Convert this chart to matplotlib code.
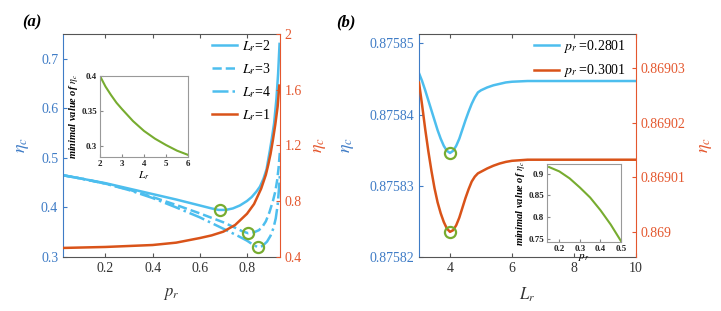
import numpy as np
import matplotlib
matplotlib.use("Agg")
import matplotlib.pyplot as plt

plt.rcParams['font.family'] = ['Liberation Serif', 'DejaVu Serif']
plt.rcParams['mathtext.fontset'] = 'stix'

# ---- panel (a) data: eta_c vs p_r ----
p_L2 = [0.02, 0.1, 0.2, 0.3, 0.4, 0.5, 0.55, 0.6, 0.65, 0.68, 0.71, 0.74, 0.77,
        0.8, 0.82, 0.84, 0.855, 0.87, 0.883, 0.897, 0.905, 0.915, 0.925, 0.932,
        0.938]
eta_L2 = [0.465, 0.458, 0.449, 0.438, 0.427, 0.416, 0.410, 0.404, 0.398, 0.395,
          0.395, 0.398, 0.404, 0.413, 0.421, 0.432, 0.442, 0.458, 0.477, 0.515,
          0.538, 0.57, 0.62, 0.67, 0.73]
p_L3 = [0.02, 0.1, 0.2, 0.3, 0.4, 0.5, 0.6, 0.7, 0.75, 0.78, 0.805, 0.83, 0.85,
        0.864, 0.88, 0.895, 0.91, 0.92, 0.928, 0.934, 0.939]
eta_L3 = [0.465, 0.458, 0.448, 0.436, 0.421, 0.405, 0.388, 0.370, 0.359, 0.352,
          0.348, 0.350, 0.354, 0.360, 0.372, 0.390, 0.413, 0.432, 0.455, 0.48,
          0.51]
p_L4 = [0.02, 0.1, 0.2, 0.3, 0.4, 0.5, 0.6, 0.7, 0.76, 0.8, 0.825, 0.845, 0.865,
        0.885, 0.9, 0.912, 0.922, 0.93, 0.936, 0.94]
eta_L4 = [0.465, 0.458, 0.448, 0.435, 0.419, 0.400, 0.380, 0.357, 0.343, 0.333,
          0.325, 0.320, 0.322, 0.331, 0.343, 0.358, 0.378, 0.405, 0.44, 0.47]
p_L1 = [0.02, 0.2, 0.4, 0.5, 0.6, 0.65, 0.7, 0.75, 0.8, 0.83, 0.86, 0.88, 0.89,
        0.9, 0.91, 0.92, 0.93, 0.937]
eta_L1 = [0.465, 0.472, 0.486, 0.503, 0.536, 0.555, 0.582, 0.63, 0.71, 0.78,
          0.89, 0.99, 1.06, 1.14, 1.24, 1.35, 1.48, 1.63]
min_p = [0.685, 0.805, 0.845]
min_eta = [0.395, 0.348, 0.320]

# inset (a): minimal eta_c vs L_r
ins_L = [2, 2.25, 2.5, 2.75, 3, 3.5, 4, 4.5, 5, 5.5, 6]
ins_min_a = [0.4, 0.385, 0.373, 0.362, 0.353, 0.336, 0.322, 0.311, 0.302,
             0.294, 0.288]

# ---- panel (b) data: eta_c vs L_r ----
L_b = [3.0, 3.1, 3.2, 3.3, 3.4, 3.5, 3.6, 3.7, 3.8, 3.9, 4.0, 4.1, 4.2, 4.3,
       4.4, 4.5, 4.6, 4.7, 4.8, 4.9, 5.0, 5.2, 5.4, 5.6, 5.8, 6.0, 6.5, 7.0,
       10.0]
eta_b1 = [0.8758458, 0.8758447, 0.8758434, 0.8758420, 0.8758406, 0.8758392,
          0.8758378, 0.8758366, 0.8758356, 0.8758349, 0.8758346, 0.8758349,
          0.8758356, 0.8758366, 0.8758379, 0.8758392, 0.8758404, 0.8758415,
          0.8758424, 0.8758431, 0.8758434, 0.8758438, 0.8758441, 0.8758443,
          0.8758445, 0.8758446, 0.8758447, 0.8758447, 0.8758447]
eta_b2 = [0.8690273, 0.8690232, 0.8690188, 0.8690148, 0.8690112, 0.8690080,
          0.8690054, 0.8690034, 0.8690018, 0.8690006, 0.8690000, 0.8690003,
          0.8690012, 0.8690026, 0.8690044, 0.8690062, 0.8690078, 0.8690092,
          0.8690101, 0.8690107, 0.8690110, 0.8690116, 0.8690121, 0.8690125,
          0.8690128, 0.8690130, 0.8690132, 0.8690132, 0.8690132]

# inset (b): minimal eta_c vs p_r
ins_p = [0.15, 0.2, 0.25, 0.3, 0.35, 0.4, 0.45, 0.5]
ins_min_b = [0.915, 0.905, 0.889, 0.868, 0.845, 0.816, 0.783, 0.745]

c_blue = '#4DBEEE'
c_red = '#D95319'
c_green = '#77AC30'
c_lax = '#3F7CC6'
c_rax = '#E4572E'
c_frame = '#555555'

W, H = 721, 311
fig = plt.figure(figsize=(W / 100, H / 100), dpi=100)


def px_axes(l, t, r, b):
    return fig.add_axes([l / W, 1 - b / H, (r - l) / W, (b - t) / H])


def style_twin(ax, ax2):
    for s in ['top', 'bottom']:
        ax.spines[s].set_color(c_frame)
        ax2.spines[s].set_visible(False)
    ax.spines['left'].set_color(c_lax)
    ax.spines['right'].set_visible(False)
    ax2.spines['left'].set_visible(False)
    ax2.spines['right'].set_color(c_rax)
    ax.tick_params(axis='x', direction='in', top=True, colors=c_frame,
                   labelcolor='#333333', labelsize=10, length=3)
    ax.tick_params(axis='y', direction='in', colors=c_lax, labelsize=10, length=3)
    ax2.tick_params(axis='y', direction='in', colors=c_rax, labelsize=10, length=3)


def style_inset(ia):
    ia.tick_params(direction='in', labelsize=6.5, length=2, colors='#888888',
                   labelcolor='#222222', pad=2)
    for lab in ia.get_xticklabels() + ia.get_yticklabels():
        lab.set_fontweight('bold')
    for s in ia.spines.values():
        s.set_color('#999999')


# ===== panel (a) =====
ax = px_axes(63, 34, 280, 257)
ax2 = ax.twinx()
ax.plot(p_L2, eta_L2, '-', color=c_blue, lw=1.8, label=r'$L_r$=2')
ax.plot(p_L3, eta_L3, '--', color=c_blue, lw=1.8, label=r'$L_r$=3')
ax.plot(p_L4, eta_L4, '-.', color=c_blue, lw=1.8, label=r'$L_r$=4')
ax2.plot(p_L1, eta_L1, '-', color=c_red, lw=1.8, label=r'$L_r$=1')
ax.plot(min_p, min_eta, 'o', mfc='none', mec=c_green, ms=8, mew=1.6)
ax.set_xlim(0.02, 0.94)
ax.set_ylim(0.3, 0.75)
ax2.set_ylim(0.4, 2.0)
ax.set_xticks([0.2, 0.4, 0.6, 0.8])
ax.set_yticks([0.3, 0.4, 0.5, 0.6, 0.7])
ax2.set_yticks([0.4, 0.8, 1.2, 1.6, 2.0], ['0.4', '0.8', '1.2', '1.6', '2'])
style_twin(ax, ax2)
ax.set_xlabel(r'$p_r$', fontsize=12, color='#333333', labelpad=8)
ax.set_ylabel(r'$\eta_c$', fontsize=13, color=c_lax, labelpad=7)
ax2.set_ylabel(r'$\eta_c$', fontsize=13, color=c_rax, labelpad=6)
h1, l1 = ax.get_legend_handles_labels()
h2, l2 = ax2.get_legend_handles_labels()
ax.legend(h1[:3] + h2, l1[:3] + l2, loc='upper right', frameon=False,
          fontsize=10, handlelength=1.8, handletextpad=0.3, labelspacing=0.52,
          bbox_to_anchor=(1.0, 1.025), borderaxespad=0.3)
fig.text(22 / W, 1 - 22 / H, '(a)', fontsize=12, fontweight='bold',
         style='italic', va='center', ha='left')

ia = px_axes(100, 76, 188, 157)
ia.plot(ins_L, ins_min_a, color=c_green, lw=1.5)
ia.set_xlim(2, 6)
ia.set_ylim(0.285, 0.4)
ia.set_xticks([2, 3, 4, 5, 6])
ia.set_yticks([0.3, 0.35, 0.4], ['0.3', '0.35', '0.4'])
style_inset(ia)
ia.set_xlabel(r'$\boldsymbol{L_r}$', fontsize=8, labelpad=1)
ia.set_ylabel(r'minimal value of $\boldsymbol{\eta_c}$', fontsize=7.5,
              fontweight='bold', style='italic', labelpad=1)

# ===== panel (b) =====
bx = px_axes(419, 34, 636, 257)
bx2 = bx.twinx()
bx.plot(L_b, eta_b1, '-', color=c_blue, lw=1.8, label=r'$p_r$ =0.2801')
bx2.plot(L_b, eta_b2, '-', color=c_red, lw=1.8, label=r'$p_r$ =0.3001')
bx.plot([L_b[10]], [eta_b1[10]], 'o', mfc='none', mec=c_green, ms=8, mew=1.6)
bx2.plot([L_b[10]], [eta_b2[10]], 'o', mfc='none', mec=c_green, ms=8, mew=1.6)
bx.set_xlim(3, 10)
bx.set_ylim(0.87582, 0.8758513)
bx2.set_ylim(0.8689954, 0.8690362)
bx.set_xticks([4, 6, 8, 10])
bx.set_yticks([0.87582, 0.87583, 0.87584, 0.87585],
              ['0.87582', '0.87583', '0.87584', '0.87585'])
bx2.set_yticks([0.869, 0.86901, 0.86902, 0.86903],
               ['0.869', '0.86901', '0.86902', '0.86903'])
style_twin(bx, bx2)
bx.set_xlabel(r'$L_r$', fontsize=12, color='#333333', labelpad=8)
bx.set_ylabel(r'$\eta_c$', fontsize=13, color=c_lax, labelpad=10)
bx2.set_ylabel(r'$\eta_c$', fontsize=13, color=c_rax, labelpad=8)
h1, l1 = bx.get_legend_handles_labels()
h2, l2 = bx2.get_legend_handles_labels()
bx.legend(h1 + h2, l1 + l2, loc='upper right', frameon=False,
          fontsize=10, handlelength=1.8, handletextpad=0.3, labelspacing=0.52,
          bbox_to_anchor=(1.0, 1.025), borderaxespad=0.3)
fig.text(346 / W, 1 - 22 / H, '(b)', fontsize=12, fontweight='bold',
         style='italic', va='center', ha='center')

ib = px_axes(547, 164, 621, 242)
ib.plot(ins_p, ins_min_b, color=c_green, lw=1.5)
ib.set_xlim(0.14, 0.5)
ib.set_ylim(0.743, 0.922)
ib.set_xticks([0.2, 0.3, 0.4, 0.5])
ib.set_yticks([0.75, 0.8, 0.85, 0.9], ['0.75', '0.8', '0.85', '0.9'])
style_inset(ib)
ib.set_xlabel(r'$\boldsymbol{p_r}$', fontsize=8, labelpad=-1)
ib.set_ylabel(r'minimal value of $\boldsymbol{\eta_c}$', fontsize=7.5,
              fontweight='bold', style='italic', labelpad=1)

fig.savefig('out.png', dpi=100)
